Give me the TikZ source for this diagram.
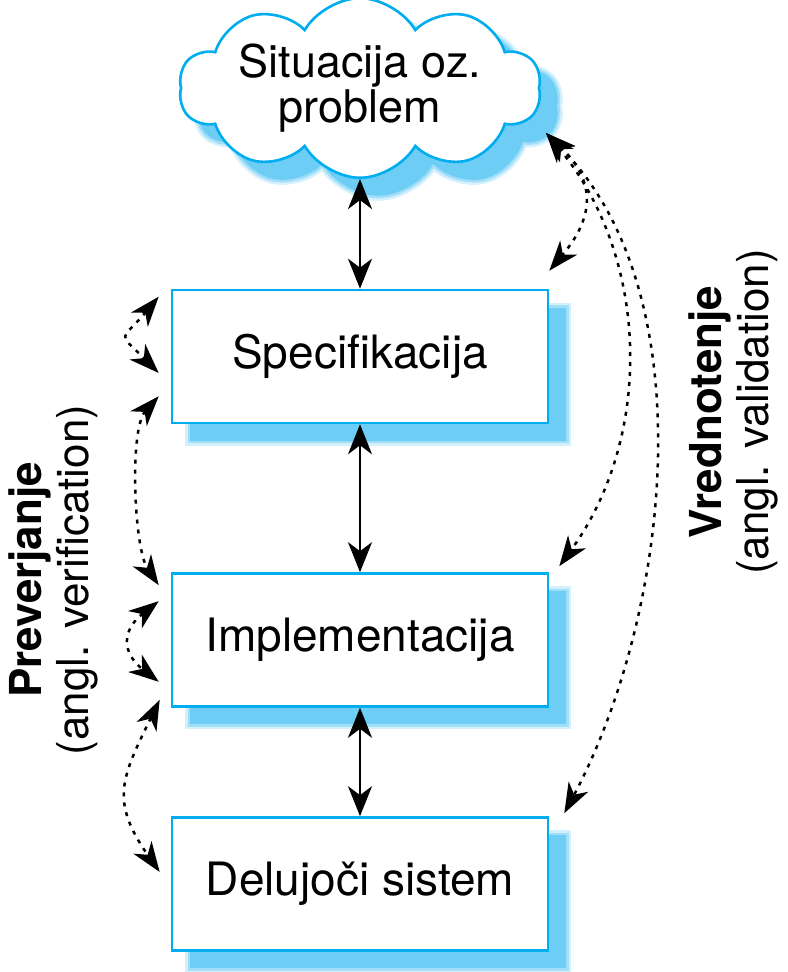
\documentclass[tikz,border=0pt]{standalone}
\usepackage{fontspec}
\setmainfont{TeX Gyre Heros}
\usetikzlibrary{
  arrows.meta,
  positioning,
  shapes.symbols,
  calc,
  shadows
}
\definecolor{framecyan}{RGB}{0,174,239}
\definecolor{shadecyan}{RGB}{110,205,245}

\begin{document}
\begin{tikzpicture}[x=0.5pt,y=0.5pt,
  softshadow/.style={
      general shadow={shadow xshift=9pt, shadow yshift=-9pt, fill=none,
          draw=shadecyan, line width=5pt, draw opacity=0.3},
      general shadow={shadow xshift=9pt, shadow yshift=-9pt, fill=shadecyan,
          draw=shadecyan, line width=2.5pt, draw opacity=0.5}},
  stagebox/.style={draw=framecyan, line width=1.3pt, fill=white,
      minimum width=188pt, minimum height=66.5pt, softshadow,
      font=\fontsize{23}{26}\selectfont},
  problemcloud/.style={cloud, cloud puffs=10, cloud puff arc=120,
      cloud ignores aspect, draw=framecyan, line width=1.3pt, fill=white,
      minimum width=181pt, minimum height=72pt, inner sep=0pt, align=center,
      softshadow, font=\fontsize{22.5}{21}\selectfont},
  mainarrow/.style={{Stealth[length=15pt,width=12pt,inset=4.5pt]}-{Stealth[length=15pt,width=12pt,inset=4.5pt]},
      line width=1pt},
  checkarrow/.style={{Stealth[length=15pt,width=11pt,inset=4.5pt]}-{Stealth[length=15pt,width=11pt,inset=4.5pt]},
      line width=1.25pt, dash pattern=on 2pt off 3pt},
  sidelabel/.style={rotate=90, align=center, font=\fontsize{22}{23.5}\selectfont}
]
  \useasboundingbox (0,0) rectangle (787,972);

  % stages
  \node[problemcloud] (problem) at (360,884) {Situacija oz.\\problem};
  \node[stagebox] (spec) at (360,615.5) {Specifikacija};
  \node[stagebox] (impl) at (360,332) {Implementacija};
  \node[stagebox] (sys)  at (360,88) {Delujoči sistem};

  % main flow
  \draw[mainarrow] (problem.south) -- (spec.north);
  \draw[mainarrow] (spec.south) -- (impl.north);
  \draw[mainarrow] (impl.south) -- (sys.north);

  % verification ends, left side
  \coordinate (ver1a) at ($(spec.north west)+(-12,-8)$);
  \coordinate (ver1b) at ($(spec.west)+(-12,-16.5)$);
  \coordinate (ver2a) at ($(spec.south west)+(-12,28)$);
  \coordinate (ver2b) at ($(impl.north west)+(-12,-13)$);
  \coordinate (ver3a) at ($(impl.north west)+(-12,-29)$);
  \coordinate (ver3b) at ($(impl.south west)+(-12,26)$);
  \coordinate (ver4a) at ($(impl.south west)+(-11,8)$);
  \coordinate (ver4b) at ($(sys.west)+(-11,12)$);

  \draw[checkarrow] (ver1a) to[out=230,in=135,looseness=2] (ver1b);
  \draw[checkarrow] (ver2a) to[out=228,in=124,looseness=0.6] (ver2b);
  \draw[checkarrow] (ver3a) to[out=218,in=142,looseness=1.5] (ver3b);
  \draw[checkarrow] (ver4a) to[out=244,in=125,looseness=1.3] (ver4b);

  % validation ends, right side
  \coordinate (val0) at ($(problem.center)+(186,-45)$);
  \coordinate (val1) at ($(spec.north east)+(0,18)$);
  \coordinate (val2) at ($(impl.north east)+(10,6)$);
  \coordinate (val3) at ($(sys.north east)+(15,3)$);

  \draw[checkarrow] (val0) to[out=316,in=50,looseness=1.3] (val1);
  \draw[checkarrow] (val0) to[out=310,in=54,looseness=0.95] (val2);
  \draw[checkarrow] (val0) to[out=315,in=62,looseness=0.85] (val3);

  % labels
  \node[sidelabel] (verif) at (53,392) {\textbf{Preverjanje}\\(angl. verification)};
  \node[sidelabel] (valid) at (733,560) {\textbf{Vrednotenje}\\(angl. validation)};

\end{tikzpicture}
\end{document}
